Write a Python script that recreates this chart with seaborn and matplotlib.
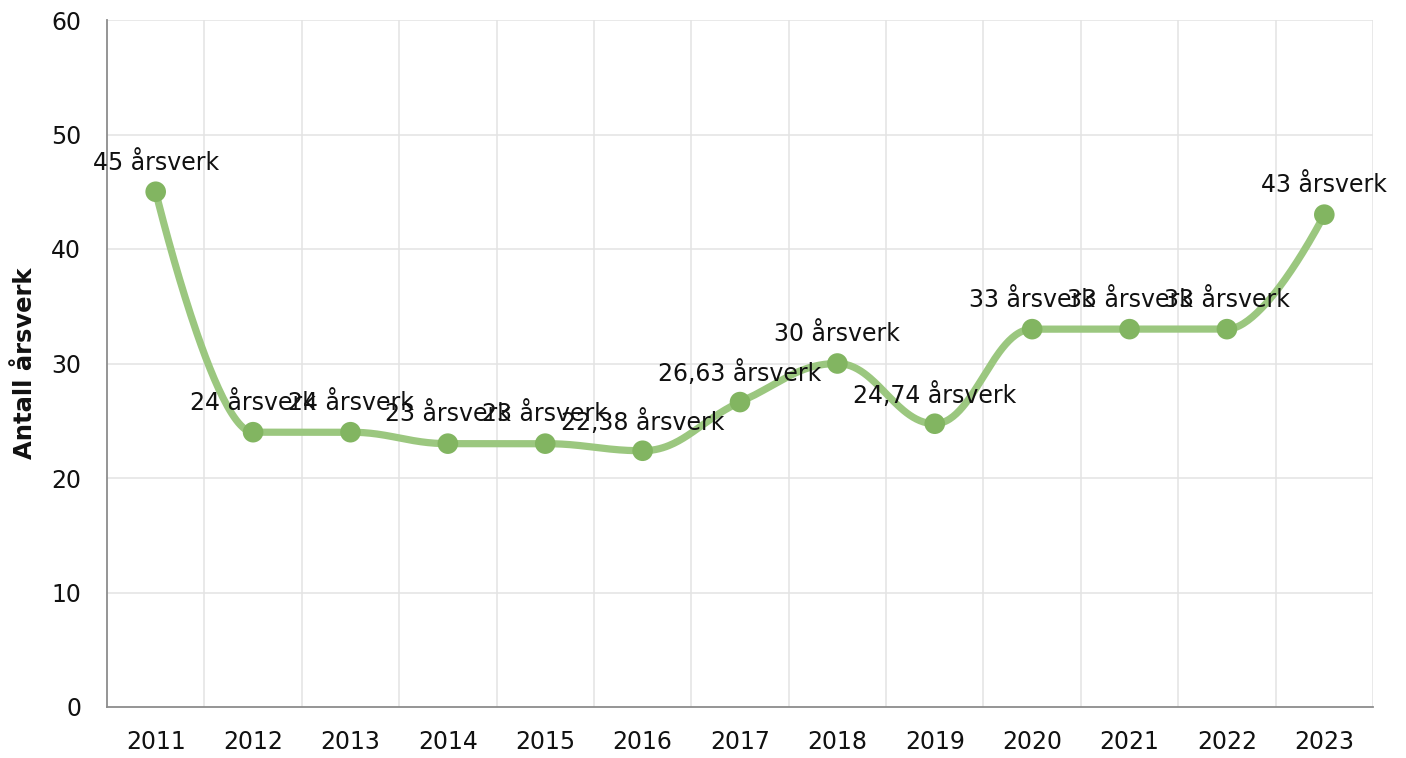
import numpy as np
import pandas as pd
import matplotlib
matplotlib.use("Agg")
import matplotlib.pyplot as plt
import seaborn as sns

years = [2011, 2012, 2013, 2014, 2015, 2016, 2017, 2018, 2019, 2020, 2021, 2022, 2023]
values = [45, 24, 24, 23, 23, 22.38, 26.63, 30, 24.74, 33, 33, 33, 43]
labels = ["45 årsverk", "24 årsverk", "24 årsverk", "23 årsverk", "23 årsverk",
          "22,38 årsverk", "26,63 årsverk", "30 årsverk", "24,74 årsverk",
          "33 årsverk", "33 årsverk", "33 årsverk", "43 årsverk"]
ylabel = "Antall årsverk"

sns.set_theme(style="white")
plt.rcParams['font.family'] = ['DejaVu Sans']

fig = plt.figure(figsize=(14.06, 7.58), dpi=100)
ax = fig.add_axes([107/1406, 1-707/758, (1373-107)/1406, (707-20)/758])


def spline_path(xs, ys, smoothing=1.5):
    """Spline smoothing (control points with no false extremes) - drawing style only."""
    n = len(xs)
    denom = smoothing + 1
    lcx, lcy, rcx, rcy = [None]*n, [None]*n, [None]*n, [None]*n
    for i in range(1, n - 1):
        px_, py_ = xs[i], ys[i]
        lx, ly = xs[i-1], ys[i-1]
        nx, ny = xs[i+1], ys[i+1]
        lX = (smoothing*px_ + lx)/denom
        lY = (smoothing*py_ + ly)/denom
        rX = (smoothing*px_ + nx)/denom
        rY = (smoothing*py_ + ny)/denom
        if rX != lX:
            corr = (rY - lY)*(rX - px_)/(rX - lX) + py_ - rY
            lY += corr
            rY += corr
        if lY > ly and lY > py_:
            lY = max(ly, py_); rY = 2*py_ - lY
        elif lY < ly and lY < py_:
            lY = min(ly, py_); rY = 2*py_ - lY
        if rY > ny and rY > py_:
            rY = max(ny, py_); lY = 2*py_ - rY
        elif rY < ny and rY < py_:
            rY = min(ny, py_); lY = 2*py_ - rY
        lcx[i], lcy[i], rcx[i], rcy[i] = lX, lY, rX, rY
    t = np.linspace(0, 1, 60)[:, None]
    out = []
    for i in range(n - 1):
        p0 = np.array([xs[i], ys[i]])
        p1 = np.array([rcx[i] if rcx[i] is not None else xs[i],
                       rcy[i] if rcy[i] is not None else ys[i]])
        p2 = np.array([lcx[i+1] if lcx[i+1] is not None else xs[i+1],
                       lcy[i+1] if lcy[i+1] is not None else ys[i+1]])
        p3 = np.array([xs[i+1], ys[i+1]])
        seg = ((1-t)**3)*p0 + 3*((1-t)**2)*t*p1 + 3*(1-t)*(t**2)*p2 + (t**3)*p3
        out.append(seg if i == 0 else seg[1:])
    pts = np.vstack(out)
    return pts[:, 0], pts[:, 1]


sx, sy = spline_path([float(v) for v in years], [float(v) for v in values])
smooth = pd.DataFrame({"x": sx, "y": sy})
df = pd.DataFrame({"year": years, "value": values})

sns.lineplot(data=smooth, x="x", y="y", sort=False, color="#9bc77f", lw=5.2,
             ax=ax, solid_capstyle="round", zorder=3)
sns.scatterplot(data=df, x="year", y="value", color="#82b561", s=220,
                edgecolor="none", ax=ax, zorder=4)

for xv, yv, lab in zip(years, values, labels):
    ax.annotate(lab, (xv, yv), xytext=(0, 21), textcoords="offset points",
                ha="center", va="center", fontsize=17, color="#111111", zorder=5)

ax.set_xlim(2010.5, 2023.5)
ax.set_ylim(0, 60)
ax.set_yticks(range(0, 61, 10))
ax.set_xticks(years)
ax.set_xticklabels([str(v) for v in years])

ax.grid(False)
for v in range(10, 61, 10):
    ax.axhline(v, color="#e3e3e3", lw=1.1, zorder=0)
for v in np.arange(2011.5, 2023.6, 1):
    ax.axvline(v, color="#e3e3e3", lw=1.1, zorder=0)

for s in ["top", "right"]:
    ax.spines[s].set_visible(False)
for s in ["left", "bottom"]:
    ax.spines[s].set_color("#8c8c8c")
    ax.spines[s].set_linewidth(1.3)

ax.tick_params(axis="both", which="major", direction="out", width=1.3,
               color="#a0a0a0", labelsize=17, labelcolor="#111111")
ax.tick_params(axis="x", length=7.5, pad=9)
ax.tick_params(axis="y", length=8.5, pad=10)

ax.set_xlabel("")
ax.set_ylabel(ylabel, fontsize=17.5, fontweight="bold", color="#111111", labelpad=10)

fig.savefig("out.png", dpi=100)
